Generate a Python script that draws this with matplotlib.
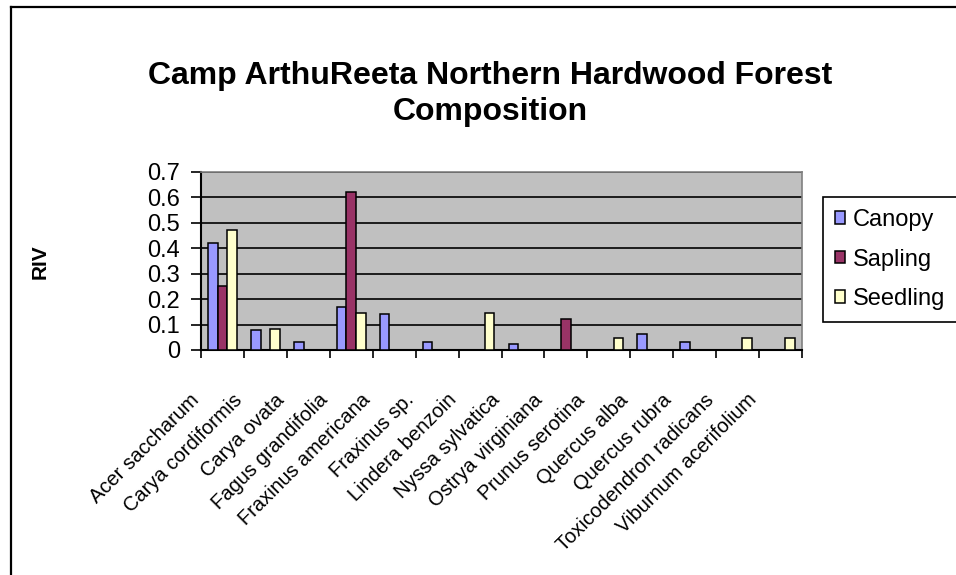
import numpy as np
import matplotlib
matplotlib.use('Agg')
import matplotlib.pyplot as plt
from matplotlib.lines import Line2D
from matplotlib.transforms import ScaledTranslation

plt.rcParams['font.family'] = ['Liberation Sans', 'DejaVu Sans']

# RIV values
species = ['Acer saccharum', 'Carya cordiformis', 'Carya ovata', 'Fagus grandifolia',
           'Fraxinus americana', 'Fraxinus sp.', 'Lindera benzoin', 'Nyssa sylvatica',
           'Ostrya virginiana', 'Prunus serotina', 'Quercus alba', 'Quercus rubra',
           'Toxicodendron radicans', 'Viburnum acerifolium']
canopy = [0.42, 0.08, 0.03, 0.17, 0.14, 0.03, 0, 0.024, 0, 0, 0.063, 0.03, 0, 0]
sapling = [0.25, 0, 0, 0.62, 0, 0, 0, 0, 0.123, 0, 0, 0, 0, 0]
seedling = [0.47, 0.084, 0, 0.147, 0, 0, 0.147, 0, 0, 0.046, 0, 0, 0.046, 0.046]
series_names = ['Canopy', 'Sapling', 'Seedling']
colors = ['#9999FF', '#993366', '#FFFFCC']

W, H = 956, 575
fig = plt.figure(figsize=(W / 100, H / 100), dpi=100)
ax = fig.add_axes([201 / W, 1 - 350 / H, 601 / W, 178 / H])
ax.set_facecolor('#C0C0C0')

x = np.arange(len(species))
bw = 0.222
for i, (vals, name, c) in enumerate(zip([canopy, sapling, seedling], series_names, colors)):
    ax.bar(x + (i - 1) * bw, vals, bw, color=c, edgecolor='black', linewidth=1.1,
           label=name, zorder=3)

ax.set_xlim(-0.5, len(species) - 0.5)
ax.set_ylim(0, 0.7)
ax.set_yticks(np.arange(0, 0.71, 0.1))
ax.set_yticklabels(['0', '0.1', '0.2', '0.3', '0.4', '0.5', '0.6', '0.7'], fontsize=17)
ax.yaxis.grid(True, color='black', linewidth=1.2, zorder=1)
ax.set_axisbelow(True)

# category boundaries as ticks, names at centres
ax.set_xticks(np.arange(-0.5, len(species), 1.0))
ax.set_xticklabels([])
ax.set_xticks(x, minor=True)
ax.set_xticklabels(species, minor=True, rotation=45, ha='right',
                   rotation_mode='anchor', fontsize=14.5)
ax.tick_params(axis='x', which='minor', length=0, pad=29)
ax.tick_params(axis='x', which='major', length=6, width=1.2, direction='out')
ax.tick_params(axis='y', length=7, width=1.2, direction='out', pad=8)
offset = ScaledTranslation(-24 / 72, 0, fig.dpi_scale_trans)
for lab in ax.get_xticklabels(minor=True):
    lab.set_transform(lab.get_transform() + offset)

for side in ['left', 'bottom']:
    ax.spines[side].set_color('black')
    ax.spines[side].set_linewidth(1.5)
for side in ['top', 'right']:
    ax.spines[side].set_color('#808080')
    ax.spines[side].set_linewidth(1.2)

ax.set_ylabel('RIV', fontsize=15, fontweight='bold', labelpad=0)
ax.yaxis.set_label_coords(50 / W, 1 - 262 / H, transform=fig.transFigure)

fig.text(490 / W, 1 - 94 / H, 'Camp ArthuReeta Northern Hardwood Forest\nComposition',
         ha='center', va='center', fontsize=23, fontweight='bold', linespacing=1.25)

leg = fig.legend(loc='upper left', bbox_to_anchor=(823 / W, 1 - 197 / H), fontsize=17,
                 frameon=True, fancybox=False, edgecolor='black', framealpha=1,
                 handlelength=0.45, handleheight=0.45, handletextpad=0.3,
                 borderpad=0.5, labelspacing=0.75, borderaxespad=0)
leg.get_frame().set_linewidth(1.2)

# outer chart border (left and top edges visible)
fig.add_artist(Line2D([11 / W, 11 / W], [0, 1 - 7 / H], color='black', linewidth=1.6,
                      transform=fig.transFigure))
fig.add_artist(Line2D([11 / W, 1], [1 - 7 / H, 1 - 7 / H], color='black', linewidth=1.6,
                      transform=fig.transFigure))

fig.savefig('out.png', dpi=100)
